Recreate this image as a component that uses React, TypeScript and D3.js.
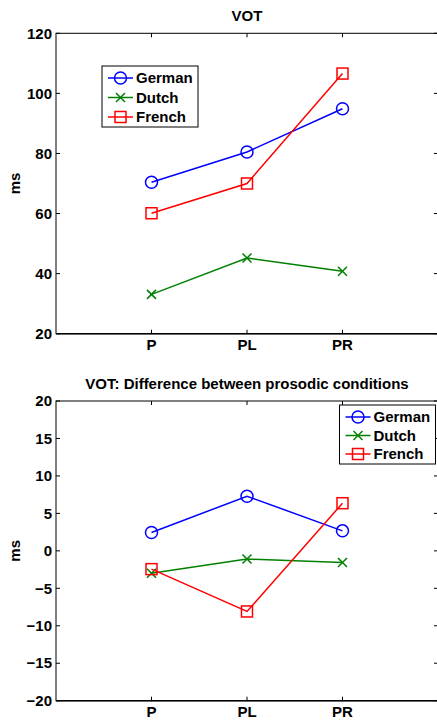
import React, {useEffect, useRef} from 'react'
import * as d3 from 'd3'

const conditions = ['P', 'PL', 'PR']
const languages = ['German', 'Dutch', 'French']
const colors = ['#0000ff', '#008000', '#ff0000']
const markers = ['circle', 'x', 'square']

// VOT in ms
const germanVot = [70.4, 80.5, 94.9]
const dutchVot = [33.1, 45.2, 40.8]
const frenchVot = [60.1, 70.0, 106.6]

// difference between prosodic conditions, ms
const germanDiff = [2.44, 7.29, 2.67]
const dutchDiff = [-2.98, -1.1, -1.55]
const frenchDiff = [-2.44, -8.09, 6.36]

const topTicks = [20, 40, 60, 80, 100, 120]
const bottomTicks = [-20, -15, -10, -5, 0, 5, 10, 15, 20]

const FONT = '"Liberation Sans", Arial, Helvetica, sans-serif'
const FS = 15

function drawMarker(g: any, type: string, x: number, y: number, color: string) {
    if (type === 'circle') {
        g.append('circle').attr('cx', x).attr('cy', y).attr('r', 6)
            .attr('fill', 'none').attr('stroke', color).attr('stroke-width', 1.5)
    } else if (type === 'square') {
        g.append('rect').attr('x', x - 5.5).attr('y', y - 5.5).attr('width', 11).attr('height', 11)
            .attr('fill', 'none').attr('stroke', color).attr('stroke-width', 1.5)
    } else {
        const s = 4.5
        g.append('path')
            .attr('d', `M${x - s},${y - s}L${x + s},${y + s}M${x - s},${y + s}L${x + s},${y - s}`)
            .attr('stroke', color).attr('stroke-width', 1.5)
    }
}

function drawPanel(svg: any, opts: any) {
    const {top, bottom, left, right, domain, ticks, series, title, legend} = opts
    const g = svg.append('g')

    const x = d3.scaleLinear().domain([0, 4]).range([left, right])
    const y = d3.scaleLinear().domain(domain).range([bottom, top])

    // box
    g.append('rect').attr('x', left).attr('y', top)
        .attr('width', right - left).attr('height', bottom - top)
        .attr('fill', 'white').attr('stroke', '#000').attr('stroke-width', 1)
    g.append('line').attr('x1', left).attr('x2', right).attr('y1', bottom).attr('y2', bottom)
        .attr('stroke', '#000').attr('stroke-width', 1.5)

    // y ticks
    ticks.forEach((t: number) => {
        const yy = y(t)
        g.append('line').attr('x1', left).attr('x2', left + 4).attr('y1', yy).attr('y2', yy).attr('stroke', '#000')
        g.append('line').attr('x1', right - 4).attr('x2', right).attr('y1', yy).attr('y2', yy).attr('stroke', '#000')
        g.append('text').attr('x', left - 4).attr('y', yy).attr('dy', '0.35em')
            .attr('text-anchor', 'end').attr('font-family', FONT).attr('font-weight', 'bold')
            .attr('font-size', FS).text(t < 0 ? '\u2212' + Math.abs(t) : String(t))
    })

    // x ticks
    conditions.forEach((c, i) => {
        const xx = x(i + 1)
        g.append('line').attr('x1', xx).attr('x2', xx).attr('y1', bottom).attr('y2', bottom - 4).attr('stroke', '#000')
        g.append('line').attr('x1', xx).attr('x2', xx).attr('y1', top).attr('y2', top + 4).attr('stroke', '#000')
        g.append('text').attr('x', xx).attr('y', bottom + 16.5)
            .attr('text-anchor', 'middle').attr('font-family', FONT).attr('font-weight', 'bold')
            .attr('font-size', FS).text(c)
    })

    // title
    g.append('text').attr('x', (left + right) / 2).attr('y', top - 12)
        .attr('text-anchor', 'middle').attr('font-family', FONT).attr('font-weight', 'bold')
        .attr('font-size', FS).text(title)

    // y label
    g.append('text').attr('transform', `translate(20,${(top + bottom) / 2}) rotate(-90)`)
        .attr('text-anchor', 'middle').attr('font-family', FONT).attr('font-weight', 'bold')
        .attr('font-size', FS).text('ms')

    // series
    const line = d3.line<number>().x((d, i) => x(i + 1)).y(d => y(d))
    series.forEach((vals: number[], k: number) => {
        g.append('path').datum(vals).attr('d', line)
            .attr('fill', 'none').attr('stroke', colors[k]).attr('stroke-width', 1.5)
        vals.forEach((v, i) => drawMarker(g, markers[k], x(i + 1), y(v), colors[k]))
    })

    // legend
    const lg = g.append('g')
    lg.append('rect').attr('x', legend.x).attr('y', legend.y).attr('width', legend.w).attr('height', legend.h)
        .attr('fill', 'white').attr('stroke', '#000').attr('stroke-width', 1)
    languages.forEach((name, k) => {
        const ly = legend.y + 12 + k * legend.step
        const lx = legend.x + 6
        lg.append('line').attr('x1', lx).attr('x2', lx + 25).attr('y1', ly).attr('y2', ly)
            .attr('stroke', colors[k]).attr('stroke-width', 1.5)
        drawMarker(lg, markers[k], lx + 12.5, ly, colors[k])
        lg.append('text').attr('x', lx + 28).attr('y', ly).attr('dy', '0.36em')
            .attr('font-family', FONT).attr('font-weight', 'bold').attr('font-size', FS).text(name)
    })
}

export default function App() {
    const ref = useRef<SVGSVGElement>(null)

    useEffect(() => {
        const svg = d3.select(ref.current)
        svg.selectAll('*').remove()

        drawPanel(svg, {
            top: 33.3, bottom: 333.7, left: 56, right: 438,
            domain: [20, 120], ticks: topTicks,
            series: [germanVot, dutchVot, frenchVot],
            title: 'VOT',
            legend: {x: 102, y: 66, w: 96, h: 61, step: 19.5}
        })
        drawPanel(svg, {
            top: 401, bottom: 700.7, left: 56, right: 438,
            domain: [-20, 20], ticks: bottomTicks,
            series: [germanDiff, dutchDiff, frenchDiff],
            title: 'VOT: Difference between prosodic conditions',
            legend: {x: 339.5, y: 405, w: 96, h: 59, step: 18.5}
        })
    }, [])

    return (
        <svg ref={ref} width={437} height={721}
             style={{position: 'absolute', left: 0, top: 0, background: 'white'}}/>
    )
}
